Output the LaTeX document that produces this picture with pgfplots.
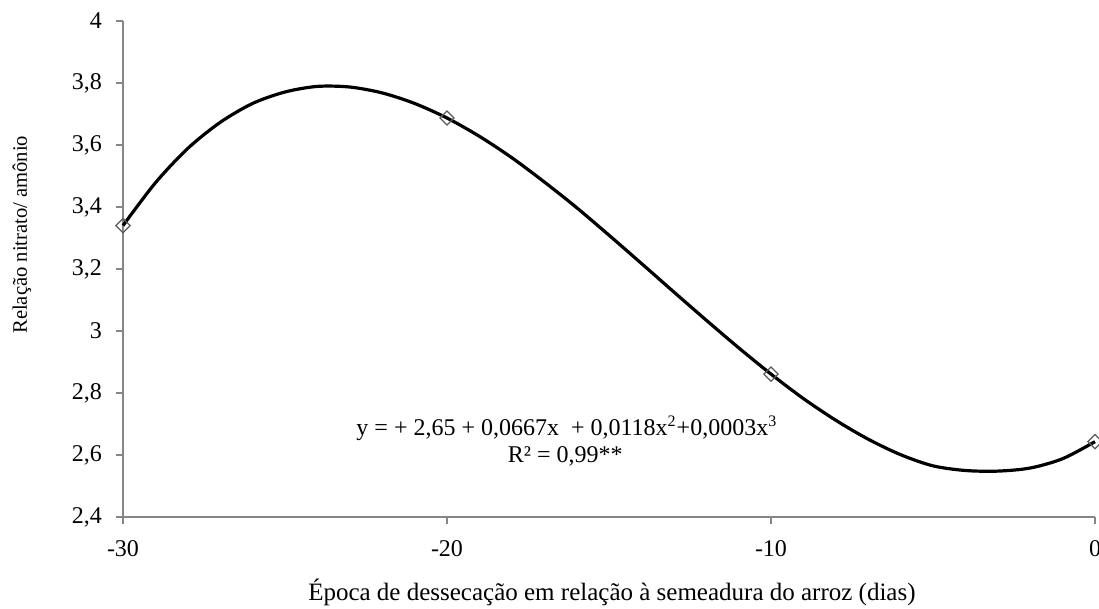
\documentclass[border=0pt]{standalone}
\usepackage{fontspec}
\setmainfont{Liberation Serif}
\usepackage{pgfplots}
\pgfplotsset{compat=1.18}
\definecolor{axgray}{RGB}{134,134,134}
\definecolor{mkgray}{RGB}{90,90,90}
\begin{document}
\begin{tikzpicture}
\begin{axis}[
  name=ax,
  scale only axis, width=486pt, height=248pt,
  xmin=-30, xmax=0, ymin=2.4, ymax=4,
  xtick={-30,-20,-10,0},
  ytick={2.4,2.6,2.8,3,3.2,3.4,3.6,3.8,4},
  axis x line=bottom, axis y line=left,
  axis line style={-, axgray, line width=0.8pt},
  tick style={axgray, line width=0.8pt},
  tick align=outside, major tick length=3.5pt,
  /pgf/number format/use comma,
  /pgf/number format/assume math mode=true,
  tick label style={font=\fontsize{12}{14}\selectfont, text=black},
  yticklabel style={xshift=-3.5pt},
  xticklabel style={yshift=-4.5pt},
  every axis y label/.style={at={(axis description cs:-0.1039,0.569)}, rotate=90, anchor=center, font=\fontsize{10.3}{12}\selectfont},
  every axis x label/.style={at={(axis description cs:0.503,-0.1512)}, anchor=center, font=\fontsize{12.5}{15}\selectfont},
  xlabel={Época de dessecação em relação à semeadura do arroz (dias)},
  ylabel={Relação nitrato/ amônio},
  clip=false,
]
\addplot[black, line width=1.6pt, smooth] coordinates {
(-30,3.340) (-29,3.478) (-28,3.589) (-27,3.673) (-26,3.734) (-25,3.771)
(-24,3.789) (-23,3.787) (-22,3.768) (-21,3.734) (-20,3.687) (-19,3.628)
(-18,3.559) (-17,3.481) (-16,3.398) (-15,3.309) (-14,3.218) (-13,3.126)
(-12,3.035) (-11,2.946) (-10,2.861) (-9,2.782) (-8,2.712) (-7,2.651)
(-6,2.601) (-5,2.565) (-4,2.550) (-3,2.548) (-2,2.558) (-1,2.588) (0,2.643)
};
\addplot[only marks, mark=square, mark size=2.5pt,
  mark options={rotate=45, draw=mkgray, fill=white, line width=0.6pt}]
  coordinates {(-30,3.340) (-20,3.687) (-10,2.861) (0,2.643)};
\node[font=\fontsize{12}{14}\selectfont, anchor=center] at (axis cs:-16.3,2.687)
  {y = + 2,65 + 0,0667x \ + 0,0118x\textsuperscript{2}+0,0003x\textsuperscript{3}};
\node[font=\fontsize{12}{14}\selectfont, anchor=center] at (axis cs:-16.35,2.594)
  {R² = 0,99**};
\end{axis}
\pgfresetboundingbox
\path[use as bounding box] ([xshift=-61.5pt,yshift=-46pt]ax.south west) rectangle ([xshift=2pt,yshift=10.5pt]ax.north east);
\end{tikzpicture}
\end{document}
